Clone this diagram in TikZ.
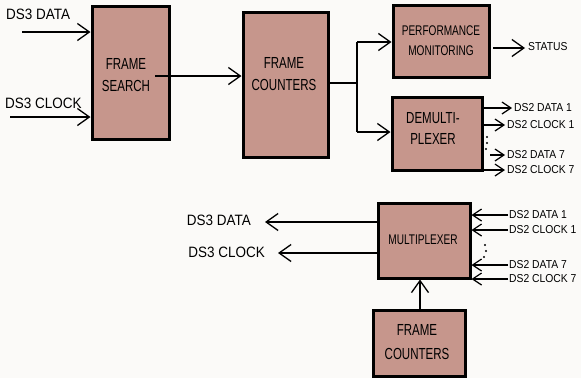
\documentclass[tikz,border=0pt]{standalone}
\usepackage{fontspec}
\setmainfont{Liberation Sans}
\newfontfamily\boxfont{Liberation Sans}[FakeStretch=0.72]
\newfontfamily\sigfont{Liberation Sans}[FakeStretch=0.9]
\usetikzlibrary{arrows.meta}
\definecolor{blockfill}{RGB}{198,150,140}
\definecolor{paper}{RGB}{251,250,248}
\tikzset{
  block/.style={draw=black, fill=blockfill, line width=3pt, inner sep=0pt},
  blocktext/.style={font=\boxfont\fontsize{14}{16}\selectfont, align=center, inner sep=0pt},
  bigblocktext/.style={font=\boxfont\fontsize{16}{18}\selectfont, align=center, inner sep=0pt},
  sig/.style={line width=1.3pt, -{Straight Barb[length=12pt,width=17pt,line width=1.3pt]}},
  smallsig/.style={line width=1.2pt, -{Straight Barb[length=9pt,width=12pt,line width=1.2pt]}},
  wire/.style={line width=1.3pt},
  siglabel/.style={font=\sigfont\fontsize{11.5}{13}\selectfont, inner sep=0pt},
  biglabel/.style={font=\sigfont\fontsize{15}{17}\selectfont, inner sep=0pt},
  dotmark/.style={fill=black, circle, inner sep=0pt, minimum size=2.2pt},
}
\begin{document}
\begin{tikzpicture}[x=1pt,y=-1pt]
\fill[paper] (0,0) rectangle (581,378);
\useasboundingbox (0,0) rectangle (581,378);

% blocks
\node[block, minimum width=77pt, minimum height=133pt] (fs) at (130.5,72.5) {};
\node[block, minimum width=85pt, minimum height=145pt] (fc1) at (285.5,84.5) {};
\node[block, minimum width=96pt, minimum height=72pt] (pm) at (441,41) {};
\node[block, minimum width=90pt, minimum height=73pt] (dm) at (437,133.5) {};
\node[block, minimum width=92pt, minimum height=75pt] (mx) at (424,240.5) {};
\node[block, minimum width=92pt, minimum height=66pt] (fc2) at (419,343) {};

% block texts
\node[bigblocktext] (fstext) at (126,75) {FRAME\\[4pt]SEARCH};
\node[bigblocktext] (fc1text) at (284,74) {FRAME\\[4pt]COUNTERS};
\node[blocktext] (pmtext) at (441,41) {PERFORMANCE\\[4pt]MONITORING};
\node[bigblocktext] (dmtext) at (433,128) {DEMULTI-\\[3pt]PLEXER};
\node[blocktext] (mxtext) at (423,240) {MULTIPLEXER};
\node[bigblocktext] (fc2text) at (417,342) {FRAME\\[6pt]COUNTERS};

% DS3 inputs
\node[biglabel, anchor=west] (ds3d) at (6,14) {DS3 DATA};
\node[biglabel, anchor=west] (ds3c) at (5,103) {DS3 CLOCK};
\coordinate (in1) at (22,32);
\coordinate (in2) at (10,117);
\draw[sig] (in1) -- (in1 -| fs.west);
\draw[sig] (in2) -- (in2 -| fs.west);

% frame search to frame counters
\coordinate (fsout) at (155,76);
\draw[sig] (fsout) -- (fsout -| fc1.west);

% frame counters fan out
\coordinate (fcout) at (328,83);
\coordinate (split) at (357,83);
\coordinate (toppm) at (357,42);
\coordinate (todm) at (357,132);
\draw[wire] (fcout) -- (split);
\draw[wire] (toppm) -- (todm);
\draw[sig] (toppm) -- (toppm -| pm.west);
\draw[sig] (todm) -- (todm -| dm.west);

% status output
\coordinate (st0) at (493,48);
\coordinate (st1) at (525,48);
\draw[sig] (st0) -- (st1);
\node[siglabel, anchor=west] (status) at (528,47) {STATUS};

% demultiplexer outputs
\coordinate (d1) at (512,108);
\coordinate (d2) at (505,125);
\coordinate (d3) at (505,155);
\coordinate (d4) at (505,170);
\draw[smallsig] (d1 -| dm.east) -- (d1);
\draw[smallsig] (d2 -| dm.east) -- (d2);
\draw[smallsig] (490,155) -- (d3);
\draw[smallsig] (d4 -| dm.east) -- (d4);
\node[siglabel, anchor=west] (dl1) at ([xshift=2pt]d1) {DS2 DATA 1};
\node[siglabel, anchor=west] (dl2) at ([xshift=2pt]d2) {DS2 CLOCK 1};
\node[siglabel, anchor=west] (dl3) at ([xshift=2pt]d3) {DS2 DATA 7};
\node[siglabel, anchor=west] (dl4) at ([xshift=2pt]d4) {DS2 CLOCK 7};
\node[dotmark] (dd1) at (487,137) {};
\node[dotmark] (dd2) at (487,143) {};
\node[dotmark] (dd3) at (486,149) {};

% multiplexer outputs
\coordinate (o1) at (265,222);
\coordinate (o2) at (278,253);
\draw[sig] (o1 -| mx.west) -- (o1);
\draw[sig] (o2 -| mx.west) -- (o2);
\node[biglabel, anchor=east] (mo1) at (251,220) {DS3 DATA};
\node[biglabel, anchor=east] (mo2) at (265,252) {DS3 CLOCK};

% multiplexer inputs
\coordinate (i1) at (508,215);
\coordinate (i2) at (508,230);
\coordinate (i3) at (508,265);
\coordinate (i4) at (508,279);
\draw[smallsig] (i1) -- (i1 -| mx.east);
\draw[smallsig] (i2) -- (i2 -| mx.east);
\draw[smallsig] (i3) -- (i3 -| mx.east);
\draw[smallsig] (i4) -- (i4 -| mx.east);
\node[siglabel, anchor=west] (ml1) at ([xshift=1pt]i1) {DS2 DATA 1};
\node[siglabel, anchor=west] (ml2) at ([xshift=1pt]i2) {DS2 CLOCK 1};
\node[siglabel, anchor=west] (ml3) at ([xshift=1pt]i3) {DS2 DATA 7};
\node[siglabel, anchor=west] (ml4) at ([xshift=1pt]i4) {DS2 CLOCK 7};
\node[dotmark] (md1) at (485,245) {};
\node[dotmark] (md2) at (486,251) {};
\node[dotmark] (md3) at (484,257) {};

% frame counters feed the multiplexer
\draw[sig] (fc2.north -| 420,0) -- (mx.south -| 420,0);
\end{tikzpicture}
\end{document}
